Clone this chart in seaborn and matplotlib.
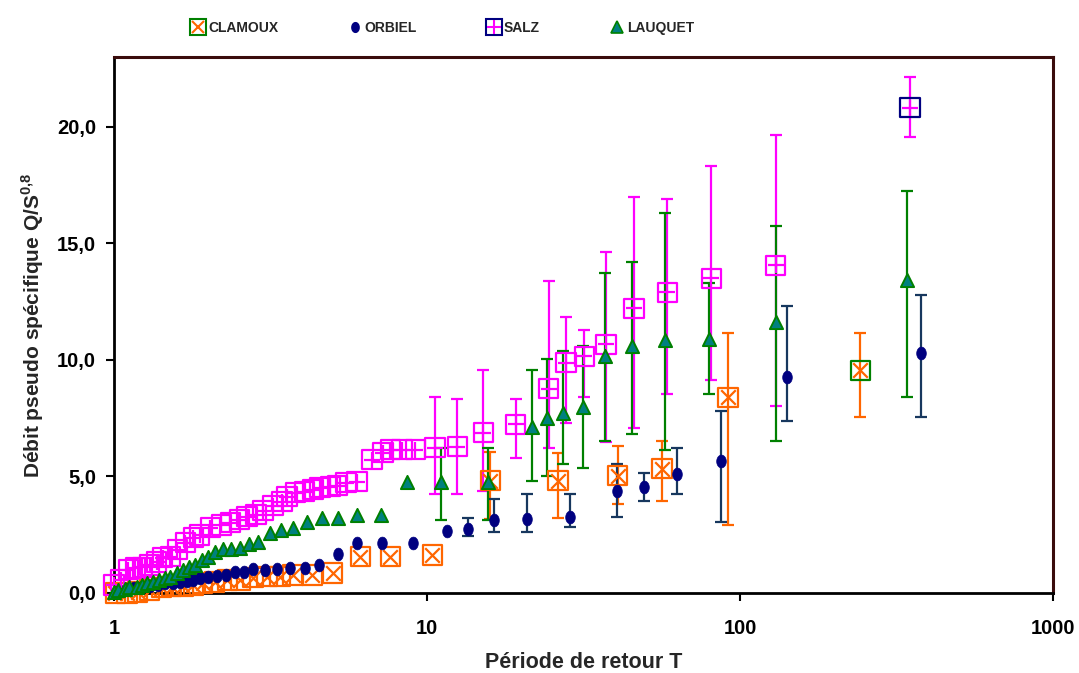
import numpy as np
import matplotlib
matplotlib.use("Agg")
import matplotlib.pyplot as plt
import seaborn as sns
from matplotlib.lines import Line2D
from matplotlib.legend_handler import HandlerTuple

# ---------- Data ----------
clamoux_T = [1.01, 1.10, 1.19, 1.30, 1.42, 1.53, 1.66, 1.79, 1.92, 2.10, 2.30, 2.53, 2.78,
             3.08, 3.39, 3.73, 4.29, 5.0, 6.11, 7.62, 10.4, 15.9, 26.2, 40.7, 56.3, 91.5, 242]
clamoux_Q = [0.0, 0.0, 0.04, 0.13, 0.22, 0.26, 0.30, 0.34, 0.43, 0.47, 0.56, 0.56, 0.65,
             0.69, 0.69, 0.77, 0.77, 0.86, 1.55, 1.55, 1.63, 4.82, 4.82, 5.03, 5.33, 8.39, 9.55]
clamoux_lo = [3.18, 3.22, 3.83, 3.96, 2.90, 7.57]
clamoux_hi = [6.06, 6.02, 6.32, 6.54, 11.14, 11.14]

orbiel_T = [1.03, 1.09, 1.16, 1.23, 1.30, 1.38, 1.46, 1.54, 1.62, 1.71, 1.79, 1.88, 2.00,
            2.13, 2.28, 2.44, 2.60, 2.78, 3.04, 3.32, 3.65, 4.08, 4.52, 5.20, 5.98, 7.18,
            9.02, 11.6, 13.5, 16.4, 20.9, 28.6, 40.5, 49.3, 62.9, 86.9, 141, 378]
orbiel_Q = [0.13, 0.17, 0.22, 0.26, 0.30, 0.34, 0.43, 0.43, 0.47, 0.52, 0.56, 0.65, 0.69,
            0.73, 0.77, 0.90, 0.90, 1.03, 0.99, 1.03, 1.07, 1.07, 1.20, 1.68, 2.15, 2.15,
            2.15, 2.67, 2.75, 3.14, 3.18, 3.27, 4.39, 4.56, 5.12, 5.68, 9.25, 10.28]
orbiel_lo = [2.45, 2.62, 2.62, 2.84, 3.27, 3.96, 4.26, 3.05, 7.40, 7.57]
orbiel_hi = [3.23, 4.04, 4.26, 4.26, 5.55, 5.16, 6.24, 7.83, 12.30, 12.77]

salz_T = [1.0, 1.05, 1.11, 1.17, 1.23, 1.30, 1.37, 1.43, 1.51, 1.59, 1.69, 1.79, 1.88,
          2.03, 2.20, 2.35, 2.51, 2.66, 2.84, 2.99, 3.22, 3.44, 3.57, 3.79, 4.05, 4.32,
          4.55, 4.90, 5.16, 5.51, 5.97, 6.67, 7.23, 7.62, 8.32, 9.16, 10.6, 12.5, 15.1,
          19.2, 24.5, 27.8, 31.8, 37.3, 45.8, 58.5, 80.8, 130, 349]
salz_Q = [0.34, 0.56, 0.99, 1.07, 1.11, 1.20, 1.33, 1.51, 1.55, 1.85, 2.15, 2.37, 2.49,
          2.80, 2.92, 3.01, 3.14, 3.27, 3.35, 3.53, 3.74, 3.91, 4.13, 4.30, 4.34, 4.43,
          4.52, 4.56, 4.60, 4.73, 4.77, 5.72, 6.02, 6.15, 6.15, 6.15, 6.24, 6.28, 6.88,
          7.23, 8.77, 9.89, 10.15, 10.67, 12.22, 12.90, 13.51, 14.06, 20.82]
salz_lo = [4.26, 4.26, 4.39, 5.81, 6.24, 7.31, 8.43, 6.50, 7.10, 8.56, 9.16, 8.04, 19.57]
salz_hi = [8.39, 8.34, 9.55, 8.34, 13.40, 11.83, 11.27, 14.62, 16.99, 16.90, 18.32, 19.66, 22.15]

lauquet_T = [1.0, 1.03, 1.08, 1.12, 1.18, 1.23, 1.27, 1.33, 1.39, 1.46, 1.51, 1.59, 1.66,
             1.74, 1.81, 1.91, 2.00, 2.10, 2.23, 2.36, 2.53, 2.70, 2.88, 3.15, 3.42, 3.73,
             4.13, 4.62, 5.20, 5.97, 7.13, 8.63, 11.1, 15.6, 21.7, 24.2, 27.2, 31.5, 37.0,
             45.2, 57.6, 79.6, 130, 342]
lauquet_Q = [0.04, 0.13, 0.17, 0.26, 0.26, 0.34, 0.43, 0.47, 0.56, 0.65, 0.69, 0.86, 0.99,
             1.12, 1.20, 1.42, 1.55, 1.76, 1.89, 1.89, 1.94, 2.11, 2.19, 2.58, 2.71, 2.80,
             3.05, 3.23, 3.23, 3.35, 3.35, 4.77, 4.77, 4.77, 7.14, 7.53, 7.74, 7.96, 10.15,
             10.58, 10.84, 10.92, 11.61, 13.42]
lauquet_lo = [3.14, 3.14, 4.82, 5.03, 5.55, 5.38, 6.54, 6.84, 6.15, 8.56, 6.54, 8.39]
lauquet_hi = [6.24, 6.24, 9.55, 10.06, 10.37, 10.58, 13.72, 14.19, 16.30, 13.29, 15.74, 17.25]

labels = ["CLAMOUX", "ORBIEL", "SALZ", "LAUQUET"]

# ---------- Colours ----------
ORANGE = "#FF6600"
NAVY = "#000080"
NAVY_ERR = "#17375E"
MAGENTA = "#FF00FF"
GREEN = "#008000"
TEAL = "#008080"

sns.set_style("white")
plt.rcParams["font.family"] = ["Liberation Sans", "DejaVu Sans"]
plt.rcParams["font.weight"] = "bold"
plt.rcParams["mathtext.fontset"] = "custom"
plt.rcParams["mathtext.bf"] = "Liberation Sans:bold"
plt.rcParams["mathtext.rm"] = "Liberation Sans:bold"

fig = plt.figure(figsize=(10.79, 6.73), dpi=100)
ax = fig.add_axes([0.1057, 0.1189, 0.8703, 0.7964])


def err_bars(T, Q, lo, hi, color):
    n = len(lo)
    t = np.array(T[-n:])
    q = np.array(Q[-n:])
    yerr = np.vstack([q - np.array(lo), np.array(hi) - q])
    ax.errorbar(t, q, yerr=yerr, fmt="none", ecolor=color, elinewidth=1.6,
                capsize=4.5, capthick=1.6, zorder=2)


# CLAMOUX: square + cross, last point with green square
err_bars(clamoux_T, clamoux_Q, clamoux_lo, clamoux_hi, ORANGE)
sq_edge = [ORANGE] * (len(clamoux_T) - 1) + [GREEN]
ax.scatter(clamoux_T, clamoux_Q, marker="s", s=190, facecolor="none",
           edgecolor=sq_edge, linewidth=1.6, zorder=3, clip_on=False)
sns.scatterplot(x=clamoux_T, y=clamoux_Q, marker="x", s=110, color=ORANGE,
                linewidth=1.6, ax=ax, zorder=3, clip_on=False)

# ORBIEL: navy dots (slightly tall ellipses)
err_bars(orbiel_T, orbiel_Q, orbiel_lo, orbiel_hi, NAVY_ERR)
ell = [(0.75 * np.cos(a), np.sin(a)) for a in np.linspace(0, 2 * np.pi, 30)]
sns.scatterplot(x=orbiel_T, y=orbiel_Q, marker=ell, s=85, color=NAVY,
                edgecolor=NAVY, linewidth=0.5, ax=ax, zorder=4, clip_on=False)

# SALZ: square + plus, last point with navy square
err_bars(salz_T, salz_Q, salz_lo, salz_hi, MAGENTA)
sq_edge = [MAGENTA] * (len(salz_T) - 1) + [NAVY]
ax.scatter(salz_T, salz_Q, marker="s", s=190, facecolor="none",
           edgecolor=sq_edge, linewidth=1.6, zorder=5, clip_on=False)
sns.scatterplot(x=salz_T, y=salz_Q, marker="+", s=130, color=MAGENTA,
                linewidth=1.6, ax=ax, zorder=5, clip_on=False)

# LAUQUET: teal triangles with green edge
err_bars(lauquet_T, lauquet_Q, lauquet_lo, lauquet_hi, GREEN)
sns.scatterplot(x=lauquet_T, y=lauquet_Q, marker="^", s=90, color=TEAL,
                edgecolor=GREEN, linewidth=1.4, ax=ax, zorder=6, clip_on=False)

# ---------- Axes ----------
ax.set_xscale("log")
ax.set_xlim(1, 1000)
ax.set_ylim(0, 23)
ax.set_xticks([1, 10, 100, 1000])
ax.set_xticklabels(["1", "10", "100", "1000"])
ax.xaxis.set_minor_locator(matplotlib.ticker.NullLocator())
ax.set_yticks([0, 5, 10, 15, 20])
ax.set_yticklabels([f"{v:.1f}".replace(".", ",") for v in [0, 5, 10, 15, 20]])
ax.tick_params(axis="both", direction="out", length=6, width=1.5, labelsize=14.5,
               left=True, bottom=True, pad=7, colors="black")
for lab in ax.get_xticklabels() + ax.get_yticklabels():
    lab.set_fontweight("bold")
ax.tick_params(axis="x", pad=13)

for side in ["left", "bottom"]:
    ax.spines[side].set_color("black")
    ax.spines[side].set_linewidth(2)
for side in ["top", "right"]:
    ax.spines[side].set_color("#3a0c0c")
    ax.spines[side].set_linewidth(2.2)

ax.set_xlabel("Période de retour T", fontsize=15.5, fontweight="bold", labelpad=10)
ax.set_ylabel(r"Débit pseudo spécifique Q/S$^{\mathbf{0{,}8}}$", fontsize=15,
              fontweight="bold", labelpad=8)

# ---------- Legend ----------
h_clamoux = (Line2D([], [], ls="none", marker="s", ms=11, mfc="none", mec=GREEN, mew=1.5),
             Line2D([], [], ls="none", marker="x", ms=8, mec=ORANGE, mew=1.5))
h_orbiel = Line2D([], [], ls="none", marker=ell, ms=7, mfc=NAVY, mec=NAVY)
h_salz = (Line2D([], [], ls="none", marker="s", ms=11, mfc="none", mec=NAVY, mew=1.5),
          Line2D([], [], ls="none", marker="+", ms=10, mec=MAGENTA, mew=1.5))
h_lauquet = Line2D([], [], ls="none", marker="^", ms=8, mfc=TEAL, mec=GREEN, mew=1.2)

fig.legend([h_clamoux, h_orbiel, h_salz, h_lauquet], labels,
           handler_map={tuple: HandlerTuple(ndivide=1, pad=0)},
           loc="center left", bbox_to_anchor=(0.165, 0.958), ncol=4, frameon=False,
           prop={"weight": "bold", "size": 10}, handlelength=1.1,
           handletextpad=0.15, columnspacing=5.0)

fig.savefig("out.png", dpi=100, facecolor="white")
